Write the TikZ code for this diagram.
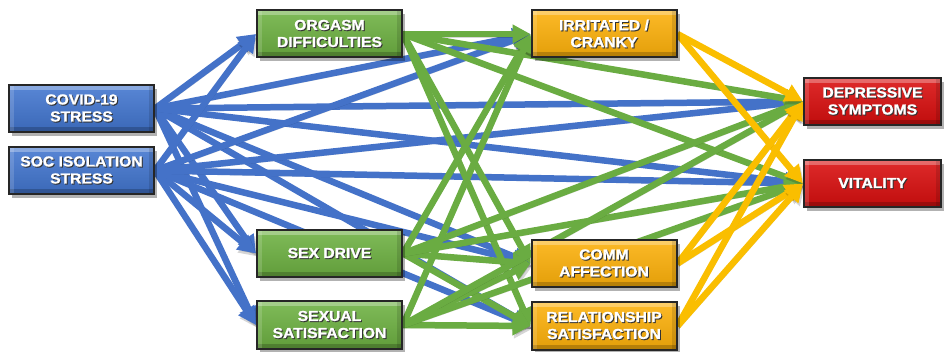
\documentclass[tikz,border=0pt]{standalone}
\usepackage{fontspec}
\newfontfamily\boxfont[FakeStretch=1.08,BoldFeatures={FakeBold=1.3}]{Liberation Sans}
\usetikzlibrary{arrows.meta,shadows}
\definecolor{bfill}{RGB}{66,118,208}
\definecolor{gfill}{RGB}{110,178,66}
\definecolor{ofill}{RGB}{252,176,10}
\definecolor{rfill}{RGB}{218,14,14}
\definecolor{barrow}{RGB}{68,114,200}
\definecolor{garrow}{RGB}{106,172,66}
\definecolor{yarrow}{RGB}{250,190,0}
\pgfdeclarelayer{bg}
\pgfsetlayers{bg,main}
\newcommand\shtxt[1]{\makebox[0pt][l]{\raisebox{-1pt}{\kern1pt\textcolor{black!80}{#1}}}\textcolor{white}{#1}}
\tikzset{
  box/.style={draw=black!85, line width=2pt, minimum width=145pt, minimum height=47pt,
    inner sep=2pt, align=center, font=\boxfont\bfseries\fontsize{14.5}{17}\selectfont,
    drop shadow={shadow xshift=3pt, shadow yshift=-4pt, opacity=0.3, fill=black},
    path picture={
      \fill[white,opacity=0.3] (path picture bounding box.north west) rectangle ([yshift=-5pt]path picture bounding box.north east);
      \fill[black,opacity=0.2] (path picture bounding box.south west) rectangle ([yshift=5pt]path picture bounding box.south east);
      \fill[black,opacity=0.12] (path picture bounding box.north east) rectangle ([xshift=-5pt]path picture bounding box.south east);
      \fill[white,opacity=0.15] (path picture bounding box.north west) rectangle ([xshift=5pt]path picture bounding box.south west);
    }},
  bluebox/.style={box, top color=bfill!88!white, bottom color=bfill!88!black},
  greenbox/.style={box, top color=gfill!88!white, bottom color=gfill!88!black},
  orangebox/.style={box, top color=ofill!88!white, bottom color=ofill!90!black},
  redbox/.style={box, minimum width=137pt, top color=rfill!88!white, bottom color=rfill!88!black},
  arr/.style={line width=6.5pt, -{Triangle[length=18pt,width=18pt]},
    preaction={draw=black, opacity=0.16, transform canvas={shift={(1.5pt,-3pt)}}}},
  barr/.style={arr, draw=barrow},
  garr/.style={arr, draw=garrow},
  yarr/.style={arr, draw=yarrow},
}
\begin{document}
\begin{tikzpicture}[x=1pt,y=-1pt]
\useasboundingbox (0,0) rectangle (944,352);
\node[bluebox] (cov) at (81.5,108.5) {\shtxt{COVID-19}\\\shtxt{STRESS}};
\node[bluebox] (soc) at (81.5,170.5) {\shtxt{SOC ISOLATION}\\\shtxt{STRESS}};
\node[greenbox] (org) at (329.5,34) {\shtxt{ORGASM}\\\shtxt{DIFFICULTIES}};
\node[greenbox] (sd) at (329.5,253.5) {\shtxt{SEX DRIVE}};
\node[greenbox] (ss) at (329.5,325) {\shtxt{SEXUAL}\\\shtxt{SATISFACTION}};
\node[orangebox] (irr) at (604,34) {\shtxt{IRRITATED /}\\\shtxt{CRANKY}};
\node[orangebox] (comm) at (604,263.5) {\shtxt{COMM}\\\shtxt{AFFECTION}};
\node[orangebox] (rel) at (604,326) {\shtxt{RELATIONSHIP}\\\shtxt{SATISFACTION}};
\node[redbox] (dep) at (872.5,101.5) {\shtxt{DEPRESSIVE}\\\shtxt{SYMPTOMS}};
\node[redbox] (vit) at (872.5,183.5) {\shtxt{VITALITY}};
\begin{pgfonlayer}{bg}
\foreach \s in {cov,soc}
  \foreach \t in {org,sd,ss,irr,comm,rel,dep,vit}
    \draw[barr] (\s.east) -- (\t.west);
\foreach \s in {org,sd,ss}
  \foreach \t in {irr,comm,rel,dep,vit}
    \draw[garr] (\s.east) -- (\t.west);
\foreach \s in {irr,comm,rel}
  \foreach \t in {dep,vit}
    \draw[yarr] (\s.east) -- (\t.west);
\end{pgfonlayer}
\end{tikzpicture}
\end{document}
